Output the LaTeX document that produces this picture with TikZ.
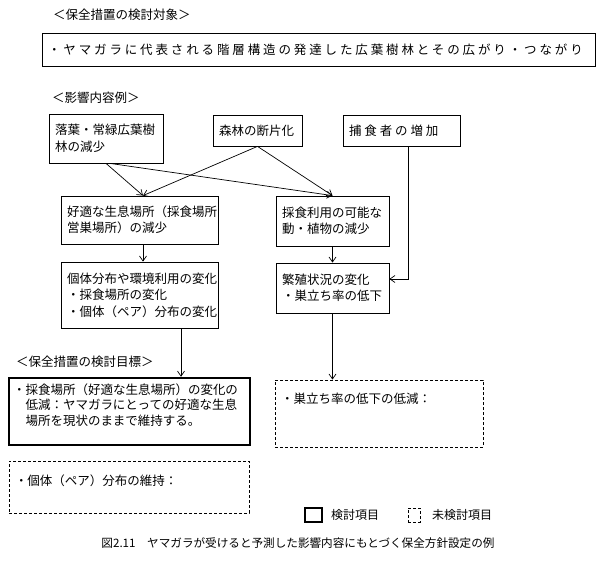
\documentclass[tikz,border=0pt]{standalone}
\usepackage{fontspec}
\setmainfont{Noto Sans CJK JP}
\newfontfamily\widejp[LetterSpace=23]{Noto Sans CJK JP}
\usetikzlibrary{arrows.meta}

\begin{document}
\begin{tikzpicture}[x=1pt,y=-1pt,
	b/.append style={draw,line width=.8pt,inner xsep=6pt,inner ysep=0pt,align=left,font=\fontsize{12.5}{16.5}\selectfont},
	nd/.append style={b,dash pattern=on 3pt off 2pt},
	g/.append style={b,line width=2.5pt,inner xsep=4pt,font=\fontsize{12.5}{15.5}\selectfont},
	h/.append style={inner sep=0pt,anchor=west,font=\fontsize{12.5}{15}\selectfont},
	a/.append style={->,>={Straight Barb[length=5pt,width=7pt]},line width=.7pt}]
\useasboundingbox (0,0) rectangle (600,580);
\node[h] (t1) at (53,15) {＜保全措置の検討対象＞};
\node[b,text width=541,minimum height=33,font=\fontsize{12.5}{15}\widejp] (tb) at (318.5,49.5) {・ヤマガラに代表される階層構造の発達した広葉樹林とその広がり・つながり};
\node[h] (t2) at (52,98) {＜影響内容例＞};
\node[b,text width=102,minimum height=49] (hk) at (106,138.5) {落葉・常緑広葉樹\\林の減少};
\node[b,text width=77,minimum height=31] (sd) at (257.5,130.5) {森林の断片化};
\node[b,text width=105,minimum height=31,font=\fontsize{12.5}{15}\widejp] (hs) at (401.5,130.5) {捕食者の増加};
\node[b,text width=145,minimum height=48] (kt) at (139.5,220) {好適な生息場所（採食場所\\営巣場所）の減少};
\node[b,text width=101,minimum height=50] (sr) at (332.5,221) {採食利用の可能な\\動・植物の減少};
\node[b,text width=145,minimum height=66] (kb) at (139.5,295) {個体分布や環境利用の変化\\・採食場所の変化\\・個体（ペア）分布の変化};
\node[b,text width=101,minimum height=50] (hj) at (332.5,288) {繁殖状況の変化\\・巣立ち率の低下};
\node[h] (t3) at (16,362) {＜保全措置の検討目標＞};
\node[g,text width=233,text height=16,text depth=51] (gs) at (129.5,411.5) {・\parbox[t]{218pt}{採食場所（好適な生息場所）の変化の\\低減：ヤマガラにとっての好適な生息\\場所を現状のままで維持する。}};
\node[nd,text width=196,text height=23,text depth=44] (sg) at (379,413.5) {・巣立ち率の低下の低減：};
\node[nd,text width=228,text height=24,text depth=28] (bi) at (129,487) {・個体（ペア）分布の維持：};
% legend
\node[draw,line width=2.5pt,minimum width=17,minimum height=14,inner sep=0pt] (lg1) at (313.5,515) {};
\node[h,font=\fontsize{12}{14}\selectfont] (lt1) at (331,515) {検討項目};
\node[draw,line width=.8pt,dash pattern=on 3pt off 2pt,minimum width=12,minimum height=14,inner sep=0pt] (lg2) at (414,515) {};
\node[h,font=\fontsize{12}{14}\selectfont] (lt2) at (432,515) {未検討項目};
\node[inner sep=0pt,font=\fontsize{11.6}{14}\selectfont] (cap) at (298,543) {図2.11　ヤマガラが受けると予測した影響内容にもとづく保全方針設定の例};
% arrows
\draw[a] (hk.south) -- ([xshift=3.5]kt.north);
\draw[a] ([xshift=4]hk.south) -- (sr.north);
\draw[a] (sd.south) -- ([xshift=3.5]kt.north);
\draw[a] (sd.south) -- (sr.north);
\draw[a] ([xshift=3.5]kt.south) -- ([xshift=3.5]kb.north);
\draw[a] (sr.south) -- (hj.north);
\draw[a] ([xshift=6.5]hs.south) |- ([yshift=9]hj.east);
\draw[a] ([xshift=41.5]kb.south) -- ([xshift=41.5]kb.south |- gs.north);
\draw[a] (hj.south) -- (hj.south |- sg.north);
\end{tikzpicture}
\end{document}
